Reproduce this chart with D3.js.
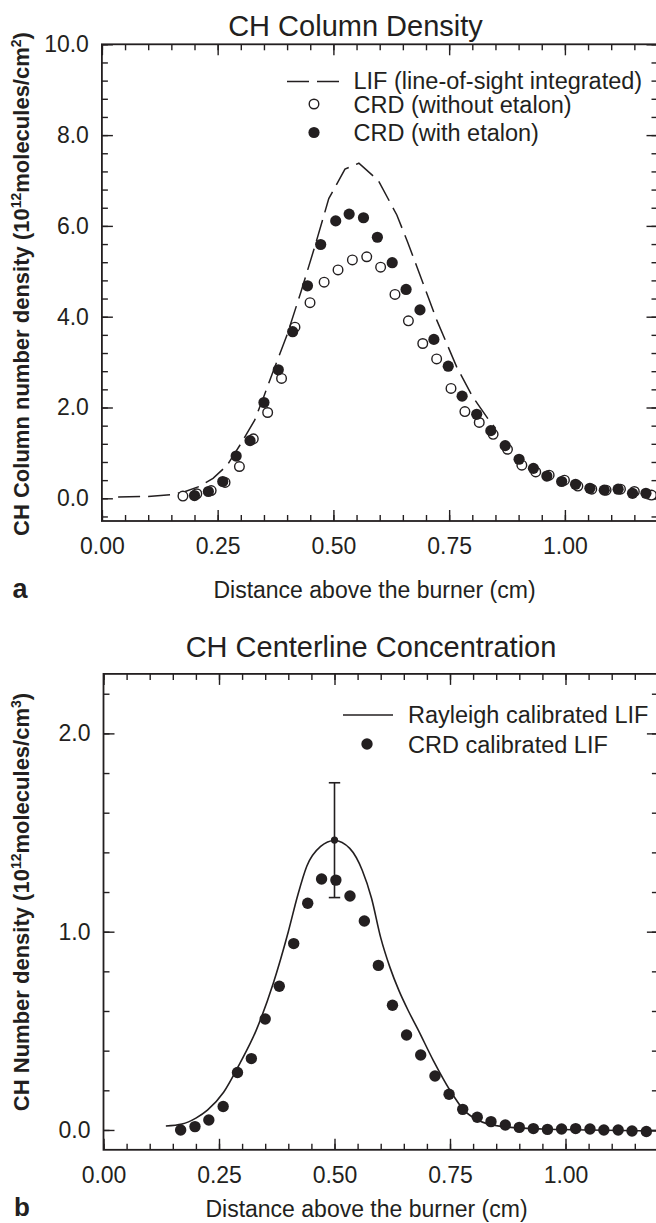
<!DOCTYPE html>
<html>
<head>
<meta charset="utf-8">
<script src="https://cdn.jsdelivr.net/npm/d3@7"></script>
<style>
  body { margin: 0; background: #fff; }
  svg text { font-family: "Liberation Sans", Arial, Helvetica, sans-serif; fill: #231f20; }
</style>
</head>
<body>
<div id="chart"></div>
<script>
// ---- panel a: CH column density ----
const lifX = [0.035, 0.10, 0.15, 0.18, 0.21, 0.24, 0.27, 0.30, 0.33, 0.35, 0.37, 0.40, 0.43, 0.46, 0.49, 0.525, 0.555, 0.597, 0.637, 0.66, 0.691, 0.723, 0.766, 0.80, 0.838, 0.85];
const lifY = [0.03, 0.04, 0.08, 0.15, 0.26, 0.44, 0.72, 1.20, 1.72, 2.25, 2.80, 3.60, 4.55, 5.55, 6.60, 7.25, 7.38, 7.00, 6.24, 5.65, 4.81, 3.93, 2.90, 2.25, 1.69, 1.55];

const openX = [0.175, 0.205, 0.236, 0.266, 0.297, 0.327, 0.358, 0.388, 0.417, 0.4495, 0.48, 0.51, 0.541, 0.572, 0.602, 0.633, 0.662, 0.693, 0.723, 0.754, 0.784, 0.815, 0.845, 0.876, 0.907, 0.937, 0.966, 0.999, 1.028, 1.058, 1.089, 1.12, 1.15, 1.187];
const openY = [0.05, 0.10, 0.17, 0.35, 0.70, 1.31, 1.89, 2.64, 3.77, 4.31, 4.76, 5.03, 5.25, 5.32, 5.09, 4.49, 3.91, 3.41, 3.07, 2.42, 1.91, 1.67, 1.41, 1.08, 0.73, 0.58, 0.51, 0.40, 0.27, 0.20, 0.18, 0.20, 0.15, 0.07];

const filledX = [0.200, 0.230, 0.261, 0.290, 0.320, 0.350, 0.381, 0.412, 0.444, 0.4725, 0.505, 0.534, 0.565, 0.595, 0.627, 0.657, 0.687, 0.717, 0.748, 0.778, 0.8095, 0.840, 0.871, 0.901, 0.932, 0.961, 0.993, 1.023, 1.054, 1.085, 1.115, 1.146, 1.175];
const filledY = [0.06, 0.15, 0.37, 0.93, 1.27, 2.11, 2.83, 3.67, 4.68, 5.59, 6.11, 6.26, 6.18, 5.75, 5.19, 4.60, 4.15, 3.50, 2.91, 2.25, 1.85, 1.49, 1.16, 0.86, 0.66, 0.49, 0.37, 0.31, 0.22, 0.18, 0.20, 0.11, 0.11];

// ---- panel b: CH centerline concentration ----
const rayX = [0.135, 0.17, 0.20, 0.225, 0.26, 0.295, 0.33, 0.3675, 0.40, 0.42, 0.44, 0.47, 0.50, 0.533, 0.56, 0.58, 0.60, 0.62, 0.64, 0.66, 0.68, 0.714, 0.75, 0.78, 0.81, 0.86, 0.95, 1.05, 1.20];
const rayY = [0.02, 0.03, 0.06, 0.10, 0.19, 0.335, 0.50, 0.74, 1.00, 1.18, 1.33, 1.43, 1.46, 1.42, 1.31, 1.17, 0.97, 0.82, 0.70, 0.60, 0.51, 0.35, 0.20, 0.10, 0.05, 0.018, 0.005, 0.0, -0.005];

const crdX = [0.167, 0.198, 0.228, 0.259, 0.29, 0.32, 0.35, 0.3805, 0.4117, 0.442, 0.472, 0.503, 0.5335, 0.5646, 0.595, 0.6255, 0.656, 0.6866, 0.7175, 0.748, 0.7775, 0.809, 0.8387, 0.8697, 0.90, 0.9305, 0.961, 0.9915, 1.022, 1.053, 1.083, 1.114, 1.144, 1.175];
const crdY = [0.0, 0.017, 0.05, 0.118, 0.29, 0.36, 0.56, 0.725, 0.94, 1.143, 1.266, 1.26, 1.18, 1.054, 0.83, 0.629, 0.479, 0.378, 0.272, 0.18, 0.104, 0.064, 0.042, 0.025, 0.013, 0.007, 0.003, 0.005, 0.007, 0.005, 0.0, 0.0, -0.005, -0.008];

const errX = 0.5, errMid = 1.462, errLow = 1.172, errHigh = 1.751;

// ticks
const xMajor = [0, 0.25, 0.5, 0.75, 1.0];
const xMinor = d3.range(0, 1.2001, 0.05);
const aYMajor = [0, 2, 4, 6, 8, 10];
const aYMinor = d3.range(-0.4, 10.001, 0.4);
const bYMajor = [0, 1, 2];
const bYMinor = d3.range(0, 2.2001, 0.2);

const W = 656, H = 1223;
const ink = "#231f20";

const svg = d3.select("#chart").append("svg")
    .attr("width", W)
    .attr("height", H);

svg.append("rect").attr("width", W).attr("height", H).attr("fill", "#fff");

// axes with inward ticks on all four sides
function drawFrame(x, y, yMajor, yMinor, yFmt) {
    const [x0, x1] = x.range();
    const [yb, yt] = y.range();

    function style(g) {
        g.select(".domain").remove();
        g.attr("font-size", 23).attr("font-family", null).attr("color", ink);
        g.selectAll("line").attr("stroke-width", 1.4);
    }

    svg.append("g").attr("transform", `translate(0,${yb})`)
        .call(d3.axisBottom(x).tickValues(xMinor).tickSize(-6).tickFormat("")).call(style);
    svg.append("g").attr("transform", `translate(0,${yb})`)
        .call(d3.axisBottom(x).tickValues(xMajor).tickSize(-11).tickPadding(17).tickFormat(d3.format(".2f"))).call(style);
    svg.append("g").attr("transform", `translate(0,${yt})`)
        .call(d3.axisTop(x).tickValues(xMinor).tickSize(-6).tickFormat("")).call(style);
    svg.append("g").attr("transform", `translate(0,${yt})`)
        .call(d3.axisTop(x).tickValues(xMajor).tickSize(-11).tickFormat("")).call(style);

    svg.append("g").attr("transform", `translate(${x0},0)`)
        .call(d3.axisLeft(y).tickValues(yMinor).tickSize(-6).tickFormat("")).call(style);
    svg.append("g").attr("transform", `translate(${x0},0)`)
        .call(d3.axisLeft(y).tickValues(yMajor).tickSize(-11).tickPadding(13).tickFormat(yFmt)).call(style);
    svg.append("g").attr("transform", `translate(${x1},0)`)
        .call(d3.axisRight(y).tickValues(yMinor).tickSize(-6).tickFormat("")).call(style);
    svg.append("g").attr("transform", `translate(${x1},0)`)
        .call(d3.axisRight(y).tickValues(yMajor).tickSize(-11).tickFormat("")).call(style);

    svg.append("rect")
        .attr("x", x0).attr("y", yt)
        .attr("width", x1 - x0).attr("height", yb - yt)
        .attr("fill", "none").attr("stroke", ink).attr("stroke-width", 1.8);
}

function yLabel(cx, cy, main, sup1, mid, sup2) {
    const t = svg.append("text")
        .attr("transform", `translate(${cx},${cy}) rotate(-90)`)
        .attr("text-anchor", "middle")
        .attr("font-weight", "bold")
        .attr("font-size", 22);
    t.append("tspan").text(main);
    t.append("tspan").attr("dy", -8).attr("font-size", 14).text(sup1);
    t.append("tspan").attr("dy", 8).text(mid);
    t.append("tspan").attr("dy", -8).attr("font-size", 14).text(sup2);
    t.append("tspan").attr("dy", 8).text(")");
}

function plainText(x, y, str, size, anchor) {
    return svg.append("text").attr("x", x).attr("y", y)
        .attr("font-size", size).attr("text-anchor", anchor || "middle").text(str);
}

// ================= panel a =================
const xa = d3.scaleLinear().domain([0, 1.2]).range([101.9, 657.5]);
const ya = d3.scaleLinear().domain([-0.5, 10]).range([521, 44.3]);

drawFrame(xa, ya, aYMajor, aYMinor, d3.format(".1f"));

const dash = "22 8";
svg.append("path")
    .datum(d3.zip(lifX, lifY))
    .attr("fill", "none")
    .attr("stroke", ink)
    .attr("stroke-width", 1.5)
    .attr("stroke-dasharray", dash)
    .attr("d", d3.line().x(d => xa(d[0])).y(d => ya(d[1])));

svg.append("g").selectAll("circle")
    .data(d3.zip(openX, openY))
    .join("circle")
    .attr("cx", d => xa(d[0]))
    .attr("cy", d => ya(d[1]))
    .attr("r", 4.8)
    .attr("fill", "#fff")
    .attr("stroke", ink)
    .attr("stroke-width", 1.4);

svg.append("g").selectAll("circle")
    .data(d3.zip(filledX, filledY))
    .join("circle")
    .attr("cx", d => xa(d[0]))
    .attr("cy", d => ya(d[1]))
    .attr("r", 5.6)
    .attr("fill", ink);

plainText(355.5, 36, "CH Column Density", 29);
plainText(374.5, 598, "Distance above the burner (cm)", 23);
yLabel(29, 284, "CH Column number density (10", "12", "molecules/cm", "2");
svg.append("text").attr("x", 12.5).attr("y", 598)
    .attr("font-family", "'Liberation Serif', 'Times New Roman', serif")
    .attr("font-weight", "bold").attr("font-size", 27).text("a");

// legend a
const legA = svg.append("g");
legA.append("line").attr("x1", 287).attr("x2", 339).attr("y1", 81.5).attr("y2", 81.5)
    .attr("stroke", ink).attr("stroke-width", 1.5).attr("stroke-dasharray", dash);
legA.append("circle").attr("cx", 314).attr("cy", 104).attr("r", 4.8)
    .attr("fill", "#fff").attr("stroke", ink).attr("stroke-width", 1.4);
legA.append("circle").attr("cx", 314).attr("cy", 132.5).attr("r", 5.6).attr("fill", ink);
plainText(353.5, 89, "LIF (line-of-sight integrated)", 23.5, "start");
plainText(353.5, 112.5, "CRD (without etalon)", 23.5, "start");
plainText(353.5, 141, "CRD (with etalon)", 23.5, "start");

// ================= panel b =================
const xb = d3.scaleLinear().domain([0, 1.2]).range([103.5, 657.9]);
const yb = d3.scaleLinear().domain([-0.1, 2.3]).range([1149.8, 673.9]);

drawFrame(xb, yb, bYMajor, bYMinor, d3.format(".1f"));

svg.append("path")
    .datum(d3.zip(rayX, rayY))
    .attr("fill", "none")
    .attr("stroke", ink)
    .attr("stroke-width", 1.6)
    .attr("d", d3.line().curve(d3.curveMonotoneX).x(d => xb(d[0])).y(d => yb(d[1])));

svg.append("g").selectAll("circle")
    .data(d3.zip(crdX, crdY))
    .join("circle")
    .attr("cx", d => xb(d[0]))
    .attr("cy", d => yb(d[1]))
    .attr("r", 5.7)
    .attr("fill", ink);

// error bar on the calibration point
const eb = svg.append("g").attr("stroke", ink).attr("stroke-width", 1.6);
eb.append("line").attr("x1", xb(errX)).attr("x2", xb(errX)).attr("y1", yb(errLow)).attr("y2", yb(errHigh));
eb.append("line").attr("x1", xb(errX) - 5.7).attr("x2", xb(errX) + 5.7).attr("y1", yb(errLow)).attr("y2", yb(errLow));
eb.append("line").attr("x1", xb(errX) - 5.7).attr("x2", xb(errX) + 5.7).attr("y1", yb(errHigh)).attr("y2", yb(errHigh));
svg.append("circle").attr("cx", xb(errX)).attr("cy", yb(errMid)).attr("r", 3.6).attr("fill", ink);

plainText(371, 657, "CH Centerline Concentration", 29);
plainText(366.5, 1217, "Distance above the burner (cm)", 23);
yLabel(29, 902, "CH Number density (10", "12", "molecules/cm", "3");
svg.append("text").attr("x", 14).attr("y", 1216)
    .attr("font-family", "'Liberation Serif', 'Times New Roman', serif")
    .attr("font-weight", "bold").attr("font-size", 26).text("b");

// legend b
const legB = svg.append("g");
legB.append("line").attr("x1", 343).attr("x2", 393).attr("y1", 715).attr("y2", 715)
    .attr("stroke", ink).attr("stroke-width", 1.6);
legB.append("circle").attr("cx", 367).attr("cy", 744).attr("r", 5.7).attr("fill", ink);
plainText(408, 723, "Rayleigh calibrated LIF", 23.5, "start");
plainText(408, 752.5, "CRD calibrated LIF", 23.5, "start");
</script>
</body>
</html>
